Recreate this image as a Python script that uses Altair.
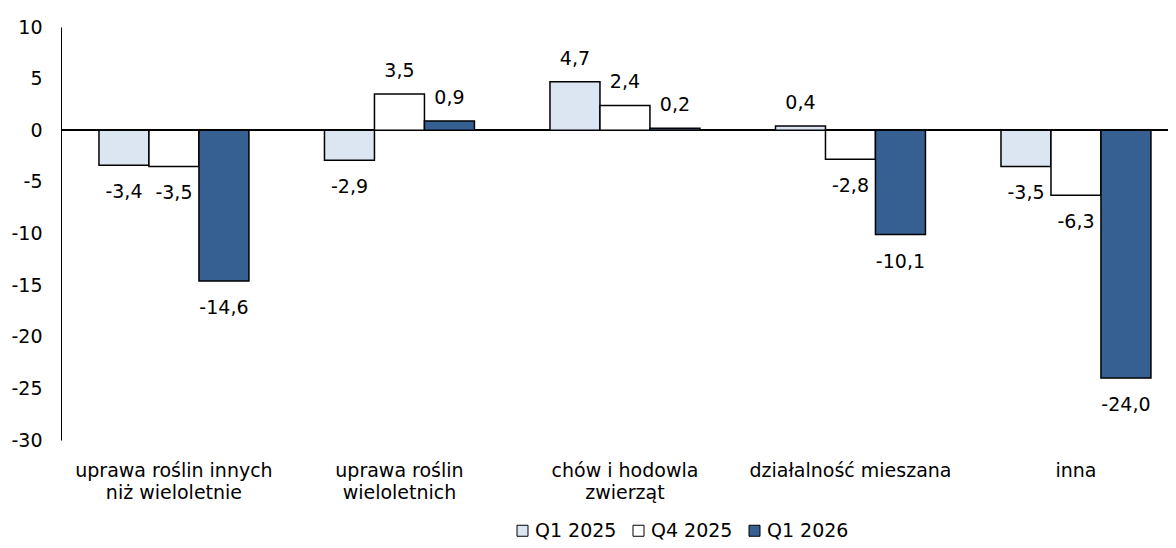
import altair as alt
import pandas as pd

categories = [
    "uprawa roślin innych\nniż wieloletnie",
    "uprawa roślin\nwieloletnich",
    "chów i hodowla\nzwierząt",
    "działalność mieszana",
    "inna",
]
series = ["Q1 2025", "Q4 2025", "Q1 2026"]
q1_2025 = [-3.4, -2.9, 4.7, 0.4, -3.5]
q4_2025 = [-3.5, 3.5, 2.4, -2.8, -6.3]
q1_2026 = [-14.6, 0.9, 0.2, -10.1, -24.0]
colors = ["#DCE6F2", "#FFFFFF", "#376092"]
y_ticks = [-30, -25, -20, -15, -10, -5, 0, 5, 10]

rows = []
for s, vals in zip(series, [q1_2025, q4_2025, q1_2026]):
    for c, v in zip(categories, vals):
        rows.append({"kat": c, "seria": s, "v": v})
df = pd.DataFrame(rows)

FONT = "DejaVu Sans"
FS = 19

x_enc = alt.X(
    "kat:N",
    sort=categories,
    title=None,
    scale=alt.Scale(paddingInner=0.335, paddingOuter=0.122, align=0.69),
    axis=alt.Axis(
        orient="bottom",
        labelAngle=0,
        labelExpr="split(datum.label, '\\n')",
        labelFontSize=FS,
        labelFont=FONT,
        labelColor="black",
        labelLineHeight=22,
        labelPadding=21,
        ticks=False,
        tickSize=0,
        domain=False,
        grid=False,
        labelLimit=400,
    ),
)
xoff = alt.XOffset("seria:N", sort=series, scale=alt.Scale(paddingInner=0, paddingOuter=0))
y_enc = alt.Y(
    "v:Q",
    title=None,
    scale=alt.Scale(domain=[-30, 10], nice=False, zero=False),
    axis=alt.Axis(
        values=y_ticks,
        labelExpr="toString(datum.value)",
        labelFontSize=FS,
        labelFont=FONT,
        labelColor="black",
        labelPadding=19,
        ticks=False,
        tickSize=0,
        grid=False,
        domain=True,
        domainColor="black",
        domainWidth=1,
    ),
)

base = alt.Chart(df)

zero = base.mark_rule(color="black", strokeWidth=1).encode(y=alt.datum(0))

bars = base.mark_bar(stroke="black", strokeWidth=1.5).encode(
    x=x_enc,
    xOffset=xoff,
    y=y_enc,
    color=alt.Color(
        "seria:N",
        sort=series,
        scale=alt.Scale(domain=series, range=colors),
        legend=alt.Legend(
            title=None,
            orient="none",
            direction="horizontal",
            legendX=452,
            legendY=494,
            symbolType="square",
            symbolSize=121,
            symbolStrokeColor="black",
            symbolStrokeWidth=1,
            symbolOpacity=1,
            labelFontSize=FS,
            labelFont=FONT,
            labelColor="black",
            labelOffset=3,
            columnPadding=12,
            padding=0,
        ),
    ),
)

label_expr = "replace(replace(format(datum.v, '.1f'), '.', ','), '\u2212', '-')"

pos_labels = base.transform_filter("datum.v >= 0").transform_calculate(
    lab=label_expr
).mark_text(dy=-23, fontSize=FS, font=FONT, color="black", baseline="middle").encode(
    x=alt.X("kat:N", sort=categories), xOffset=alt.XOffset("seria:N", sort=series), y="v:Q", text="lab:N"
)
neg_labels = base.transform_filter("datum.v < 0").transform_calculate(
    lab=label_expr
).mark_text(dy=27, fontSize=FS, font=FONT, color="black", baseline="middle").encode(
    x=alt.X("kat:N", sort=categories), xOffset=alt.XOffset("seria:N", sort=series), y="v:Q", text="lab:N"
)

chart = (
    alt.layer(zero, bars, pos_labels, neg_labels)
    .properties(
        width=1107,
        height=413,
        autosize=alt.AutoSizeParams(type="none"),
        padding={"left": 53, "top": 19, "right": 0, "bottom": 100},
    )
    .configure(font=FONT)
    .configure_view(stroke=None, strokeWidth=0)
)

chart.save("out.html", embed_options={"renderer": "svg", "actions": False})
